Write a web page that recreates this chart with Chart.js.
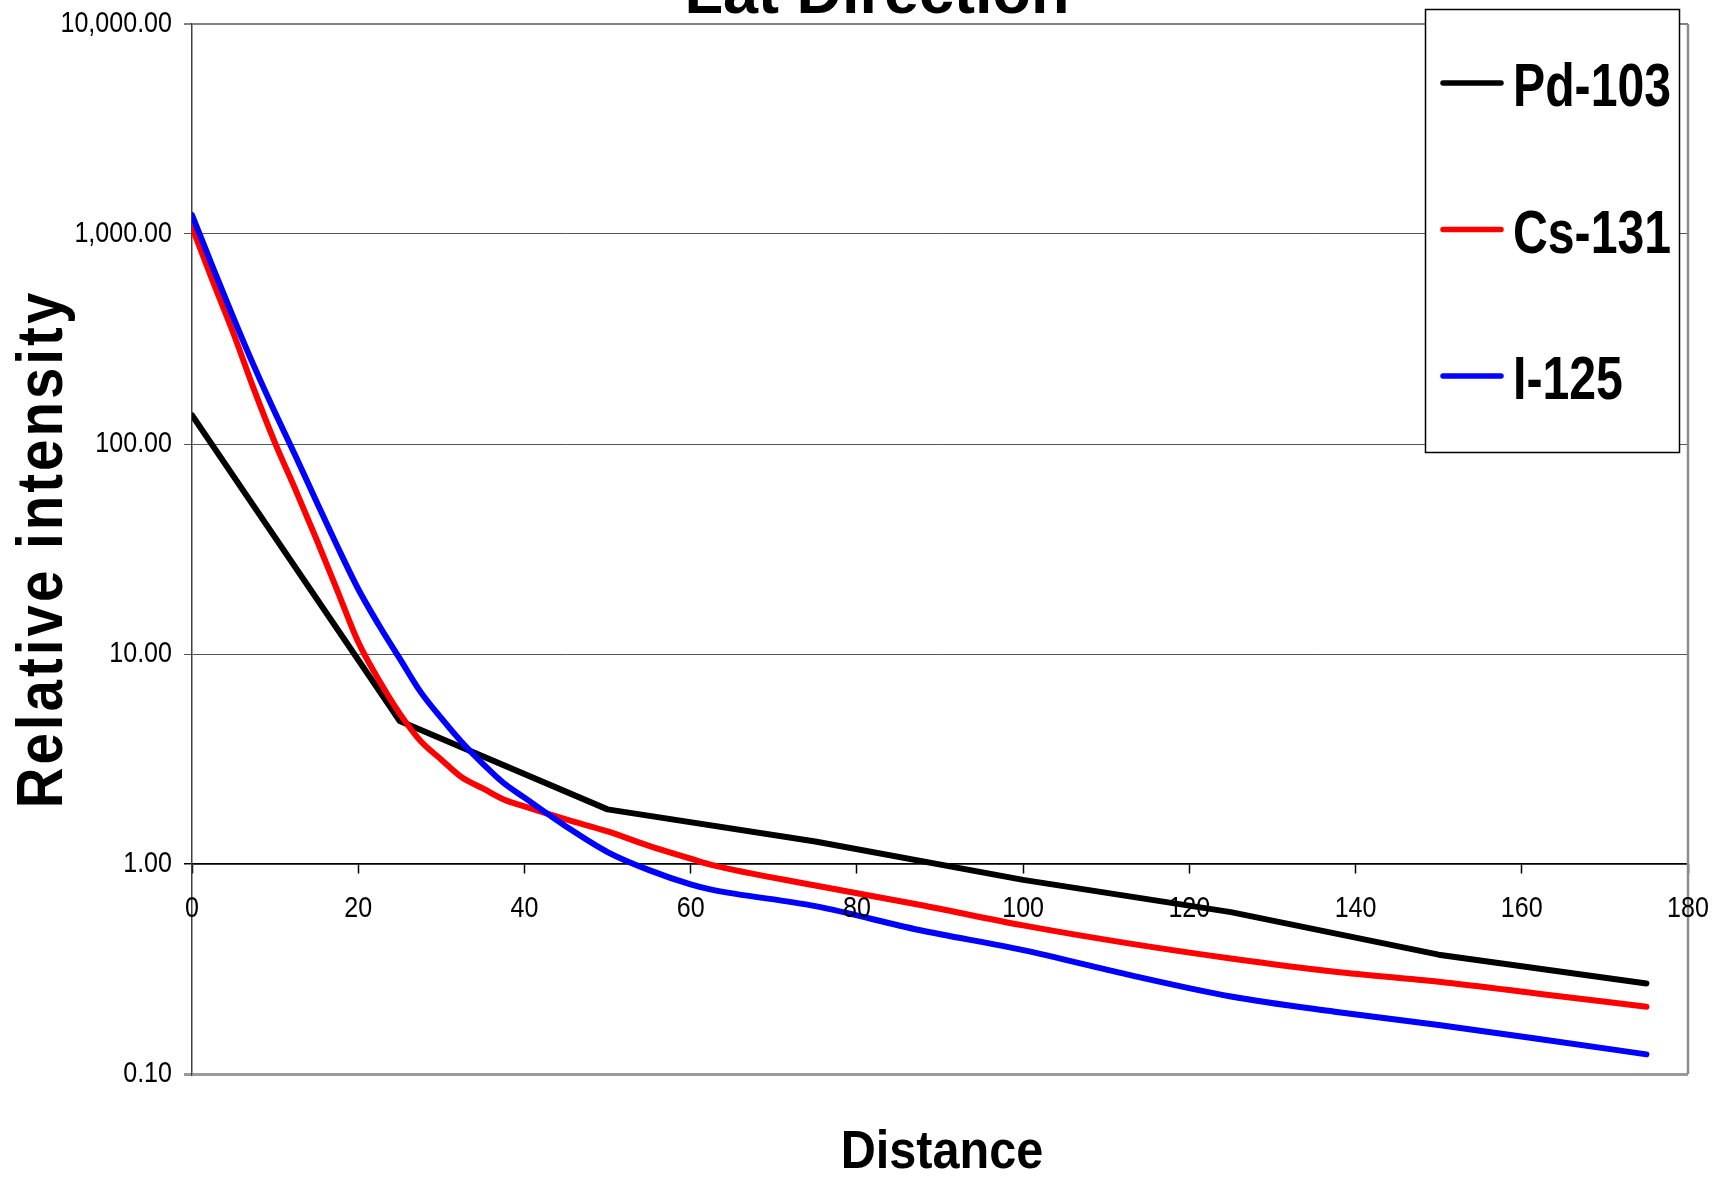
<!DOCTYPE html>
<html>
<head>
<meta charset="utf-8">
<script src="https://cdn.jsdelivr.net/npm/chart.js@4"></script>
<style>
    html, body { margin: 0; padding: 0; background: #fff; }
    #wrap { width: 1722px; height: 1185px; }
</style>
</head>
<body>
<div id="wrap"><canvas id="chart" width="1722" height="1185"></canvas></div>
<script>
// Données
const seriesNames = ['Pd-103', 'Cs-131', 'I-125'];
const seriesColors = ['#000000', '#ff0000', '#0000ff'];

const pdDistance = [0, 25, 50, 75, 100, 125, 150, 175];
const pdIntensity = [137, 4.8, 1.82, 1.28, 0.84, 0.59, 0.37, 0.27];

const csDistance = [0, 2.5, 5, 7.5, 10, 12.5, 15, 17.5, 20, 22.5, 25, 27.5, 30, 32.5, 35, 37.5, 40, 45, 50, 55, 60, 62.5, 75, 87.5, 100, 112.5, 125, 137.5, 150, 162.5, 175];
const csIntensity = [1080, 596, 335, 180, 101, 60, 35, 20, 11.4, 7.5, 5.2, 3.85, 3.14, 2.58, 2.29, 2.03, 1.88, 1.63, 1.43, 1.22, 1.06, 0.99, 0.79, 0.64, 0.51, 0.42, 0.355, 0.307, 0.275, 0.24, 0.209];

const iDistance = [0, 2.5, 5, 7.5, 10, 12.5, 15, 17.5, 20, 22.5, 25, 27.5, 30, 32.5, 35, 37.5, 40, 45, 50, 55, 60, 62.5, 75, 87.5, 100, 112.5, 125, 137.5, 150, 162.5, 175];
const iIntensity = [1230, 696, 398, 233, 141, 87, 53, 32.5, 20.4, 13.7, 9.5, 6.6, 4.95, 3.79, 3.0, 2.43, 2.07, 1.51, 1.14, 0.935, 0.80, 0.755, 0.63, 0.485, 0.389, 0.298, 0.234, 0.198, 0.171, 0.146, 0.124];

const xTickValues = [0, 20, 40, 60, 80, 100, 120, 140, 160, 180];
const xTickLabels = ['0', '20', '40', '60', '80', '100', '120', '140', '160', '180'];
const yTickValues = [0.1, 1, 10, 100, 1000, 10000];
const yTickLabels = ['0.10', '1.00', '10.00', '100.00', '1,000.00', '10,000.00'];

const chartTitle = 'Lat Direction';
const xTitle = 'Distance';
const yTitle = 'Relative intensity';

const fontFamily = "'Liberation Sans', Arial, sans-serif";

const toPoints = (xs, ys) => xs.map((x, i) => ({ x: x, y: ys[i] }));

// Texte compressé horizontalement (pas de police "Narrow" installée)
function narrowText(ctx, text, x, y, size, bold, scaleX, align, baseline) {
    ctx.save();
    ctx.translate(x, y);
    ctx.scale(scaleX, 1);
    ctx.font = (bold ? 'bold ' : '') + size + 'px ' + fontFamily;
    ctx.textAlign = align;
    ctx.textBaseline = baseline;
    ctx.fillStyle = '#000';
    ctx.fillText(text, 0, 0);
    ctx.restore();
}

// Cadre droit de la zone de tracé
const plotFramePlugin = {
    id: 'plotFrame',
    beforeDatasetsDraw(chart) {
        const { ctx, chartArea } = chart;
        ctx.save();
        ctx.strokeStyle = '#8c8c8c';
        ctx.lineWidth = 2.5;
        ctx.beginPath();
        ctx.moveTo(chartArea.right, chartArea.top);
        ctx.lineTo(chartArea.right, chartArea.bottom);
        ctx.stroke();
        ctx.restore();
    }
};

// Étiquettes des graduations, placées avec les échelles de Chart.js
const tickLabelsPlugin = {
    id: 'tickLabels',
    afterDraw(chart) {
        const { ctx, scales } = chart;
        const xs = scales.x, ys = scales.y;
        yTickValues.forEach((v, i) => {
            narrowText(ctx, yTickLabels[i], ys.right - 20, ys.getPixelForValue(v), 29.5, false, 0.85, 'right', 'middle');
        });
        const axisY = ys.getPixelForValue(1);
        xTickValues.forEach((v, i) => {
            narrowText(ctx, xTickLabels[i], xs.getPixelForValue(v), axisY + 45, 29.5, false, 0.85, 'center', 'middle');
        });
    }
};

// Titres (graphique, axes)
const titlesPlugin = {
    id: 'titles',
    afterDraw(chart) {
        const { ctx, chartArea } = chart;
        ctx.save();
        ctx.fillStyle = '#000';

        // Titre principal, coupé en haut comme sur l'original
        ctx.font = 'bold 63px ' + fontFamily;
        ctx.textAlign = 'center';
        ctx.textBaseline = 'alphabetic';
        ctx.fillText(chartTitle, 877, 13);

        // Titre de l'axe X
        narrowText(ctx, xTitle, 942, 1168, 54, true, 0.9, 'center', 'alphabetic');

        // Titre de l'axe Y (vertical, lettres espacées)
        ctx.save();
        ctx.translate(62, (chartArea.top + chartArea.bottom) / 2);
        ctx.rotate(-Math.PI / 2);
        ctx.scale(0.88, 1);
        ctx.font = 'bold 64px ' + fontFamily;
        ctx.letterSpacing = '3.5px';
        ctx.textAlign = 'center';
        ctx.fillText(yTitle, 0, 0);
        ctx.restore();

        ctx.restore();
    }
};

// Légende encadrée en haut à droite
const boxLegendPlugin = {
    id: 'boxLegend',
    afterDraw(chart) {
        const { ctx } = chart;
        const left = 1425, top = 9, width = 254, height = 443;
        ctx.save();
        ctx.fillStyle = '#fff';
        ctx.fillRect(left, top, width, height);
        ctx.strokeStyle = '#000';
        ctx.lineWidth = 1.5;
        ctx.strokeRect(left + 0.5, top + 0.5, width, height);

        chart.data.datasets.forEach((ds, i) => {
            const rowY = 83 + i * 146.5;
            ctx.strokeStyle = ds.borderColor;
            ctx.lineWidth = 5.5;
            ctx.lineCap = 'round';
            ctx.beginPath();
            ctx.moveTo(1443, rowY);
            ctx.lineTo(1501, rowY);
            ctx.stroke();
            narrowText(ctx, ds.label, 1513, rowY + 23, 61, true, 0.79, 'left', 'alphabetic');
        });
        ctx.restore();
    }
};

const ctx = document.getElementById('chart').getContext('2d');

new Chart(ctx, {
    type: 'line',
    data: {
        datasets: [
            { label: seriesNames[0], data: toPoints(pdDistance, pdIntensity), borderColor: seriesColors[0], order: 2 },
            { label: seriesNames[1], data: toPoints(csDistance, csIntensity), borderColor: seriesColors[1], order: 1, cubicInterpolationMode: 'monotone' },
            { label: seriesNames[2], data: toPoints(iDistance, iIntensity), borderColor: seriesColors[2], order: 0, cubicInterpolationMode: 'monotone' }
        ]
    },
    options: {
        responsive: false,
        animation: false,
        layout: { padding: { left: 0, top: 24, right: 34, bottom: 111 } },
        elements: {
            line: { borderWidth: 6, tension: 0, borderCapStyle: 'round', borderJoinStyle: 'round', fill: false },
            point: { radius: 0, hoverRadius: 0 }
        },
        plugins: {
            legend: { display: false },
            title: { display: false },
            tooltip: { enabled: false }
        },
        scales: {
            x: {
                type: 'linear',
                min: 0,
                max: 180,
                position: { y: 1 },
                afterBuildTicks: (scale) => { scale.ticks = xTickValues.map(v => ({ value: v })); },
                ticks: { display: false, autoSkip: false, maxRotation: 0 },
                grid: { drawOnChartArea: false, drawTicks: true, tickLength: 9, tickColor: '#000', tickWidth: 1.5 },
                border: { color: '#000', width: 1.5 }
            },
            y: {
                type: 'logarithmic',
                min: 0.1,
                max: 10000,
                position: 'left',
                afterBuildTicks: (scale) => { scale.ticks = yTickValues.map(v => ({ value: v })); },
                afterFit: (scale) => { scale.width = 192; },
                ticks: { display: false },
                grid: {
                    tickLength: 8,
                    color: (c) => {
                        const v = c.tick ? c.tick.value : null;
                        if (v === 10000) return '#808080';
                        if (v === 0.1) return '#9a9a9a';
                        if (v === 1) return '#000';
                        return '#555';
                    },
                    lineWidth: (c) => {
                        const v = c.tick ? c.tick.value : null;
                        if (v === 10000) return 2;
                        if (v === 0.1) return 3;
                        if (v === 1) return 1.5;
                        return 1;
                    }
                },
                border: { color: '#404040', width: 1.5 }
            }
        }
    },
    plugins: [plotFramePlugin, tickLabelsPlugin, titlesPlugin, boxLegendPlugin]
});
</script>
</body>
</html>
